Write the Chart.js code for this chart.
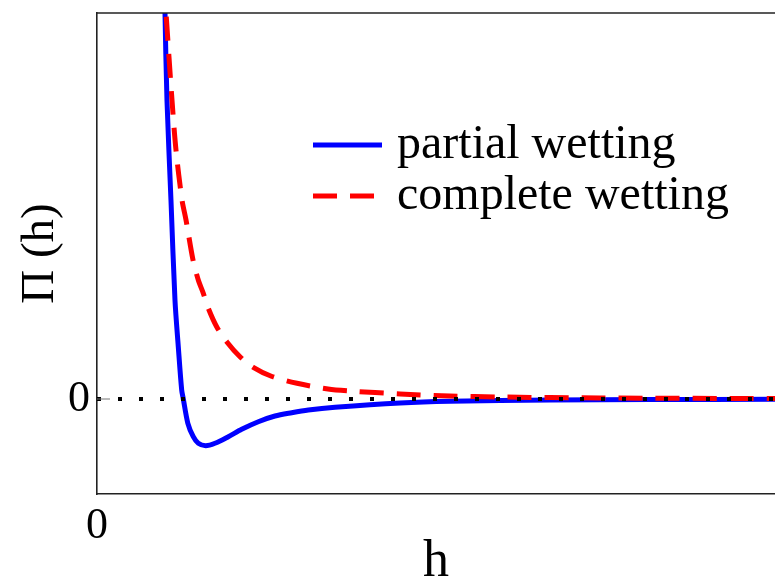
<!DOCTYPE html>
<html>
<head>
<meta charset="utf-8">
<script src="https://cdn.jsdelivr.net/npm/chart.js@4.4.0/dist/chart.umd.min.js"></script>
<style>
  html, body { margin: 0; padding: 0; background: #fff; }
  #wrap { width: 775px; height: 581px; }
</style>
</head>
<body>
<div id="wrap"><canvas id="piChart" width="775" height="581"></canvas></div>
<script>
// Disjoining pressure curves (h and Pi in arbitrary units)
const partialH  = [0.996, 1.003, 1.032, 1.091, 1.150, 1.199, 1.249, 1.273, 1.340, 1.420, 1.494, 1.603, 1.740, 1.937, 2.134, 2.379, 2.625, 2.872, 3.117, 3.510, 4.469, 5.206, 6.681, 8.156, 10];
const partialPi = [4.19, 3.86, 2.99, 1.99, 0.99, 0.523, 0.09, 0.0, -0.243, -0.377, -0.443, -0.467, -0.443, -0.377, -0.303, -0.227, -0.17, -0.137, -0.11, -0.083, -0.04, -0.023, -0.01, -0.006, -0.003];

const completeH  = [0.988, 1.018, 1.106, 1.165, 1.254, 1.313, 1.416, 1.494, 1.568, 1.642, 1.765, 1.913, 2.109, 2.305, 2.581, 2.950, 3.407, 3.732, 4.469, 5.206, 5.944, 7.419, 10];
const completePi = [4.19, 3.86, 2.99, 2.49, 1.99, 1.79, 1.39, 1.19, 1.057, 0.907, 0.723, 0.573, 0.423, 0.317, 0.225, 0.157, 0.10, 0.08, 0.05, 0.03, 0.02, 0.01, 0.004];

const zeroH  = [0, 10];
const zeroPi = [0, 0];

const xRange = [0, 10];
const yRange = [-0.95, 3.86];
const xTicks = [0];
const yTicks = [0];

const seriesLabels = ['partial wetting', 'complete wetting'];

const SERIF = '"Liberation Serif", "Times New Roman", serif';

const toPoints = (xs, ys) => xs.map((x, i) => ({ x, y: ys[i] }));

// frame on top + small inward tick mark, the way the original plot shows them
const framePlugin = {
  id: 'frame',
  afterDatasetsDraw(chart){
    const { ctx, chartArea: a, scales } = chart;
    ctx.save();
    ctx.strokeStyle = '#222';
    ctx.lineWidth = 1.6;
    ctx.beginPath();
    ctx.moveTo(a.left, a.top);
    ctx.lineTo(a.right, a.top);
    ctx.stroke();
    ctx.strokeStyle = '#777';
    ctx.lineWidth = 1;
    for(const v of yTicks){
      const py = scales.y.getPixelForValue(v);
      ctx.beginPath();
      ctx.moveTo(a.left, py);
      ctx.lineTo(a.left + 13, py);
      ctx.stroke();
    }
    ctx.restore();
  }
};

// legend drawn inside the plot, like the original
const innerLegend = {
  id: 'innerLegend',
  afterDraw(chart, args, opts){
    const { ctx } = chart;
    ctx.save();
    ctx.font = opts.font;
    ctx.fillStyle = '#000';
    ctx.textBaseline = 'alphabetic';
    opts.items.forEach((idx, row) => {
      const ds = chart.data.datasets[idx];
      const y = opts.y + row * opts.rowGap;
      ctx.strokeStyle = ds.borderColor;
      ctx.lineWidth = ds.borderWidth;
      ctx.setLineDash(ds.borderDash || []);
      ctx.beginPath();
      ctx.moveTo(opts.x, y);
      ctx.lineTo(opts.x + opts.sample, y);
      ctx.stroke();
      ctx.setLineDash([]);
      ctx.fillText(ds.label, opts.x + opts.sample + opts.gap, y + opts.textDy);
    });
    ctx.restore();
  }
};

new Chart(document.getElementById('piChart'), {
  type: 'line',
  data: {
    datasets: [
      {
        label: 'zero',
        data: toPoints(zeroH, zeroPi),
        borderColor: '#000',
        borderWidth: 4,
        borderDash: [4, 17],
        borderCapStyle: 'butt',
        pointRadius: 0,
        order: 0
      },
      {
        label: seriesLabels[1],
        data: toPoints(completeH, completePi),
        borderColor: '#ff0000',
        borderWidth: 5,
        borderDash: [24, 13],
        borderCapStyle: 'butt',
        tension: 0.3,
        pointRadius: 0,
        order: 1
      },
      {
        label: seriesLabels[0],
        data: toPoints(partialH, partialPi),
        borderColor: '#0000ff',
        borderWidth: 5,
        tension: 0.3,
        pointRadius: 0,
        order: 2
      }
    ]
  },
  options: {
    responsive: false,
    animation: false,
    layout: { padding: { top: 13, right: 0, left: 0, bottom: 0 } },
    plugins: {
      legend: { display: false },
      tooltip: { enabled: false },
      innerLegend: {
        items: [2, 1],
        x: 313, y: 145, rowGap: 51,
        sample: 69, gap: 15, textDy: 13,
        font: '48px ' + SERIF
      }
    },
    scales: {
      x: {
        type: 'linear',
        min: xRange[0], max: xRange[1],
        afterFit(scale){ scale.height = 87; scale.paddingLeft = 0; scale.paddingRight = 0; },
        afterBuildTicks(scale){ scale.ticks = xTicks.map(v => ({ value: v })); },
        grid: { display: false, drawTicks: false },
        border: { display: true, color: '#222', width: 1.6 },
        ticks: { color: '#000', padding: 6, font: { family: SERIF, size: 44 }, maxRotation: 0 },
        title: { display: true, text: 'h', color: '#000', font: { family: SERIF, size: 52, lineHeight: 1 }, padding: { top: 0, bottom: -7 } }
      },
      y: {
        min: yRange[0], max: yRange[1],
        afterFit(scale){ scale.width = 97; scale.paddingTop = 0; scale.paddingBottom = 0; },
        afterBuildTicks(scale){ scale.ticks = yTicks.map(v => ({ value: v })); },
        grid: { display: false, drawTicks: false },
        border: { display: true, color: '#222', width: 1.6 },
        ticks: { color: '#000', padding: 7, font: { family: SERIF, size: 44 } },
        title: { display: true, text: 'Π (h)', color: '#000', font: { family: SERIF, size: 47, lineHeight: 1 }, padding: { top: 17, bottom: 0 } }
      }
    }
  },
  plugins: [framePlugin, innerLegend]
});
</script>
</body>
</html>
